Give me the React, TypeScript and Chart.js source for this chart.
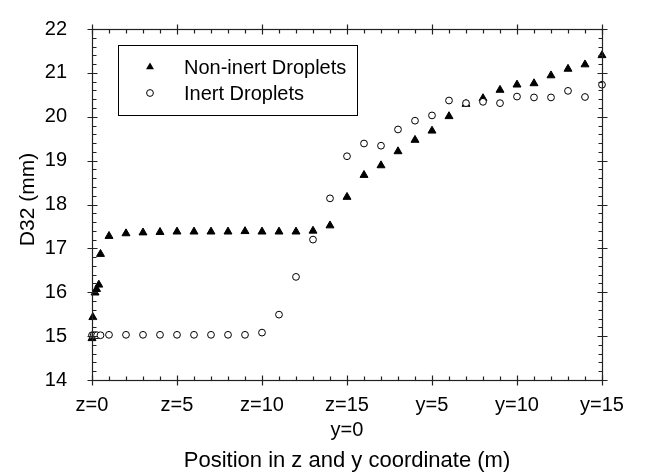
import React, { useEffect, useRef } from 'react';
import { Chart, registerables } from 'chart.js';

Chart.register(...registerables);

// Non-inert droplets (filled triangles): position (0-15 = z, 15-30 = y+15), D32 (mm)
const nonInertX = [0, 0.05, 0.18, 0.27, 0.4, 0.5, 1, 2, 3, 4, 5, 6, 7, 8, 9, 10, 11, 12, 13, 14, 15, 16, 17, 18, 19, 20, 21, 22, 23, 24, 25, 26, 27, 28, 29, 30];
const nonInertY = [14.95, 15.43, 15.99, 16.07, 16.17, 16.87, 17.28, 17.34, 17.36, 17.37, 17.38, 17.38, 17.38, 17.38, 17.39, 17.38, 17.38, 17.38, 17.4, 17.52, 18.17, 18.67, 18.89, 19.21, 19.47, 19.68, 20.01, 20.29, 20.42, 20.61, 20.73, 20.76, 20.94, 21.09, 21.19, 21.4];

// Inert droplets (open circles)
const inertX = [0, 0.1, 0.2, 0.3, 0.5, 1, 2, 3, 4, 5, 6, 7, 8, 9, 10, 11, 12, 13, 14, 15, 16, 17, 18, 19, 20, 21, 22, 23, 24, 25, 26, 27, 28, 29, 30];
const inertY = [15.02, 15.02, 15.02, 15.02, 15.02, 15.03, 15.03, 15.03, 15.03, 15.03, 15.03, 15.03, 15.03, 15.03, 15.08, 15.49, 16.35, 17.2, 18.14, 19.1, 19.39, 19.34, 19.71, 19.91, 20.03, 20.37, 20.31, 20.34, 20.31, 20.46, 20.44, 20.44, 20.59, 20.45, 20.73];

const xTickValues = [0, 5, 10, 15, 20, 25, 30];
const xTickLabels: (string | string[])[] = ['z=0', 'z=5', 'z=10', ['z=15', 'y=0'], 'y=5', 'y=10', 'y=15'];
const yTickValues = [14, 15, 16, 17, 18, 19, 20, 21, 22];

const seriesNames = ['Non-inert Droplets', 'Inert Droplets'];
const xTitle = 'Position in z and y coordinate (m)';
const yTitle = 'D32 (mm)';

const FONT = '"Liberation Sans", Arial, sans-serif';
const AXIS_COLOR = '#222';

const framePlugin = {
  id: 'frameTicksLegend',
  afterDatasetsDraw(chart: any) {
    const { ctx, chartArea: a, scales } = chart;
    const xs = scales.x;
    const ys = scales.y;
    ctx.save();
    ctx.strokeStyle = AXIS_COLOR;
    ctx.lineWidth = 1.2;
    const L = Math.round(a.left) + 0.5;
    const R = Math.round(a.right) + 0.5;
    const T = Math.round(a.top) + 0.5;
    const B = Math.round(a.bottom) + 0.5;
    ctx.strokeRect(L, T, R - L, B - T);
    ctx.beginPath();
    // x ticks (every unit, major every 5)
    for (let v = xs.min; v <= xs.max + 1e-9; v += 1) {
      const px = Math.round(xs.getPixelForValue(v)) + 0.5;
      const major = Math.abs(v % 5) < 1e-9;
      if (major) {
        ctx.moveTo(px, T - 5); ctx.lineTo(px, T + 5);
        ctx.moveTo(px, B - 5); ctx.lineTo(px, B + 5);
      } else {
        ctx.moveTo(px, T); ctx.lineTo(px, T + 4);
        ctx.moveTo(px, B); ctx.lineTo(px, B - 4);
      }
    }
    // y ticks (every 0.2, major every 1)
    for (let i = 0; i <= Math.round((ys.max - ys.min) * 5); i++) {
      const v = ys.min + i * 0.2;
      const py = Math.round(ys.getPixelForValue(v)) + 0.5;
      const major = i % 5 === 0;
      if (major) {
        ctx.moveTo(L - 5, py); ctx.lineTo(L + 5, py);
        ctx.moveTo(R - 5, py); ctx.lineTo(R + 5, py);
      } else {
        ctx.moveTo(L, py); ctx.lineTo(L + 4, py);
        ctx.moveTo(R, py); ctx.lineTo(R - 4, py);
      }
    }
    ctx.stroke();
    ctx.restore();
  },
  afterDraw(chart: any) {
    const { ctx, chartArea: a } = chart;
    ctx.save();
    ctx.fillStyle = '#000';
    // axis titles
    ctx.font = `22px ${FONT}`;
    ctx.textAlign = 'center';
    ctx.textBaseline = 'middle';
    ctx.fillText(xTitle, (a.left + a.right) / 2, 461);
    ctx.save();
    ctx.translate(28, (a.top + a.bottom) / 2 - 5);
    ctx.rotate(-Math.PI / 2);
    ctx.font = `21px ${FONT}`;
    ctx.fillText(yTitle, 0, 0);
    ctx.restore();

    // legend box
    ctx.strokeStyle = '#000';
    ctx.lineWidth = 1;
    ctx.strokeRect(118.5, 45.5, 239, 70);
    // triangle marker
    const tx = 150, ty = 67, r = 4.6;
    ctx.beginPath();
    ctx.moveTo(tx, ty - r);
    ctx.lineTo(tx + r * Math.sin(2 * Math.PI / 3), ty - r * Math.cos(2 * Math.PI / 3));
    ctx.lineTo(tx + r * Math.sin(4 * Math.PI / 3), ty - r * Math.cos(4 * Math.PI / 3));
    ctx.closePath();
    ctx.fillStyle = '#000';
    ctx.fill();
    // circle marker
    ctx.beginPath();
    ctx.arc(150, 93, 3.4, 0, Math.PI * 2);
    ctx.fillStyle = '#fff';
    ctx.fill();
    ctx.strokeStyle = '#000';
    ctx.stroke();
    // texts
    ctx.fillStyle = '#000';
    ctx.font = `20px ${FONT}`;
    ctx.textAlign = 'left';
    ctx.textBaseline = 'middle';
    ctx.fillText(seriesNames[0], 184, 68);
    ctx.fillText(seriesNames[1], 184, 94);
    ctx.restore();
  },
};

export default function App() {
  const canvasRef = useRef<HTMLCanvasElement | null>(null);

  useEffect(() => {
    const canvas = canvasRef.current;
    if (!canvas) return;
    const chart = new Chart(canvas, {
      type: 'scatter',
      data: {
        datasets: [
          {
            label: seriesNames[0],
            data: nonInertX.map((x, i) => ({ x, y: nonInertY[i] })),
            pointStyle: 'triangle',
            pointRadius: 4.6,
            pointBackgroundColor: '#000',
            pointBorderColor: '#000',
            pointBorderWidth: 1,
            showLine: false,
            clip: false,
            order: 1,
          },
          {
            label: seriesNames[1],
            data: inertX.map((x, i) => ({ x, y: inertY[i] })),
            pointStyle: 'circle',
            pointRadius: 3.4,
            pointBackgroundColor: '#fff',
            pointBorderColor: '#000',
            pointBorderWidth: 1,
            showLine: false,
            clip: false,
            order: 0,
          },
        ],
      },
      options: {
        responsive: false,
        animation: false,
        devicePixelRatio: 1,
        layout: { padding: { left: 0, right: 44, top: 21, bottom: 0 } },
        plugins: {
          legend: { display: false },
          tooltip: { enabled: false },
          title: { display: false },
        },
        scales: {
          x: {
            type: 'linear',
            min: 0,
            max: 30,
            grid: { display: false },
            border: { display: false },
            afterBuildTicks: (scale: any) => {
              scale.ticks = xTickValues.map((v) => ({ value: v }));
            },
            afterFit: (scale: any) => {
              scale.height = 93;
            },
            ticks: {
              autoSkip: false,
              maxRotation: 0,
              padding: 5,
              color: '#000',
              font: { family: FONT, size: 20, lineHeight: 1.25 },
              callback: (value: any) => {
                const idx = xTickValues.indexOf(Number(value));
                return idx >= 0 ? xTickLabels[idx] : '';
              },
            },
          },
          y: {
            type: 'linear',
            min: 14,
            max: 22,
            grid: { display: false },
            border: { display: false },
            afterBuildTicks: (scale: any) => {
              scale.ticks = yTickValues.map((v) => ({ value: v }));
            },
            afterFit: (scale: any) => {
              scale.width = 92;
            },
            ticks: {
              autoSkip: false,
              padding: 17,
              color: '#000',
              font: { family: FONT, size: 20 },
              callback: (value: any) => String(value),
            },
          },
        },
      },
      plugins: [framePlugin],
    });
    return () => chart.destroy();
  }, []);

  return (
    <div style={{ position: 'fixed', left: 0, top: 0, width: 646, height: 473, background: '#fff' }}>
      <canvas ref={canvasRef} width={646} height={473} />
    </div>
  );
}
